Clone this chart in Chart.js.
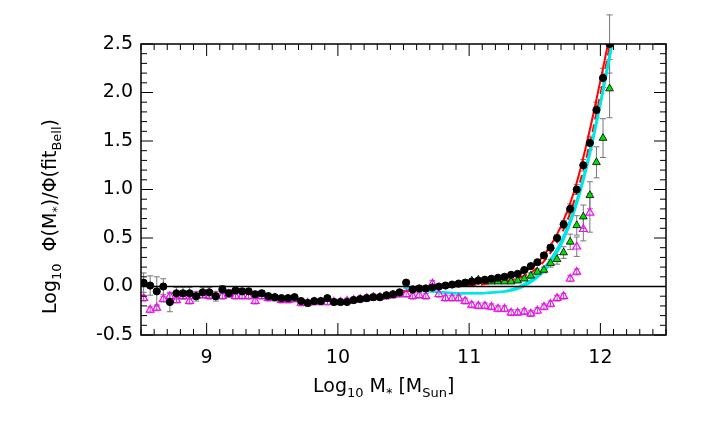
<!DOCTYPE html>
<html><head><meta charset="utf-8">
<script src="https://cdn.jsdelivr.net/npm/chart.js@4"></script>
<style>body{margin:0;background:#fff}#wrap{width:706px;height:424px}</style>
</head><body><div id="wrap"><canvas id="c"></canvas></div>
<script>
// black circles
const blackX = [8.52,8.57,8.62,8.67,8.72,8.77,8.82,8.87,8.92,8.97,9.02,9.07,9.12,9.17,9.22,9.27,9.32,9.37,9.42,9.47,9.52,9.57,9.62,9.67,9.72,9.77,9.82,9.87,9.92,9.97,10.02,10.07,10.12,10.17,10.22,10.27,10.32,10.37,10.42,10.47,10.52,10.57,10.62,10.67,10.72,10.77,10.82,10.87,10.92,10.97,11.02,11.07,11.12,11.17,11.22,11.27,11.32,11.37,11.42,11.47,11.52,11.57,11.62,11.67,11.72,11.77,11.82,11.87,11.92,11.97,12.02,12.07];
const blackY = [0.04,0.01,-0.05,0.0,-0.16,-0.07,-0.07,-0.07,-0.1,-0.06,-0.06,-0.1,-0.03,-0.07,-0.04,-0.05,-0.05,-0.08,-0.07,-0.1,-0.11,-0.12,-0.12,-0.11,-0.15,-0.17,-0.15,-0.15,-0.12,-0.16,-0.16,-0.16,-0.14,-0.13,-0.12,-0.11,-0.11,-0.09,-0.08,-0.06,0.04,-0.03,-0.02,-0.02,-0.01,0.0,0.01,0.02,0.03,0.04,0.05,0.06,0.07,0.08,0.09,0.1,0.12,0.13,0.17,0.21,0.25,0.32,0.4,0.5,0.64,0.8,1.0,1.25,1.48,1.82,2.15,2.5];
const blackErr = [0.1,0.1,0.15,0.08,0.1,0.06,0.06,0.06,0.05,0.05,0.05,0.05,0.04,0.04,0.04,0.03,0.03,0.03,0.03,0.03,0.02,0.02,0.02,0.02,0.02,0.02,0.02,0.02,0.02,0.02,0.02,0.02,0.02,0.02,0.02,0.02,0.02,0.02,0.02,0.02,0.02,0.02,0.02,0.02,0.02,0.02,0.02,0.02,0.02,0.02,0.02,0.02,0.02,0.02,0.02,0.02,0.02,0.02,0.02,0.02,0.02,0.03,0.03,0.03,0.04,0.05,0.05,0.06,0.07,0.08,0.1,0.3];
// green triangles
const greenX = [11.02,11.07,11.12,11.17,11.22,11.27,11.32,11.37,11.42,11.47,11.52,11.57,11.62,11.67,11.72,11.77,11.82,11.87,11.92,11.97,12.02,12.07];
const greenY = [0.06,0.07,0.06,0.05,0.05,0.05,0.05,0.06,0.08,0.11,0.15,0.17,0.24,0.28,0.35,0.46,0.63,0.72,0.94,1.28,1.53,2.04];
const greenErr = [0.02,0.02,0.02,0.02,0.02,0.02,0.02,0.02,0.02,0.03,0.03,0.03,0.04,0.05,0.06,0.08,0.1,0.12,0.14,0.16,0.2,0.3];
// magenta triangles
const magX = blackX.slice(0,67);
const magY = [-0.12,-0.24,-0.22,-0.13,-0.1,-0.14,-0.1,-0.15,-0.1,-0.09,-0.1,-0.1,-0.1,-0.08,-0.1,-0.1,-0.1,-0.15,-0.1,-0.12,-0.12,-0.14,-0.14,-0.13,-0.17,-0.17,-0.16,-0.16,-0.16,-0.16,-0.16,-0.15,-0.14,-0.13,-0.12,-0.11,-0.11,-0.1,-0.09,-0.08,-0.08,-0.1,-0.09,-0.1,0.03,-0.08,-0.12,-0.12,-0.12,-0.15,-0.19,-0.2,-0.2,-0.21,-0.23,-0.23,-0.27,-0.27,-0.26,-0.28,-0.25,-0.21,-0.18,-0.12,-0.1,0.08,0.15];
const magXHigh = [11.82,11.87,11.92];
const magYHigh = [0.41,0.59,0.76];
// fit curves
const curveX = [10.5,10.7,10.9,11.0,11.1,11.2,11.3,11.4,11.5,11.6,11.7,11.8,11.9,12.0,12.05,12.1];
const redSolid = [-0.05,-0.01,0.01,0.02,0.04,0.06,0.09,0.14,0.22,0.38,0.62,0.98,1.5,2.12,2.45,2.8];
const redDash  = [-0.05,-0.02,0.0,0.01,0.02,0.04,0.06,0.1,0.17,0.31,0.53,0.88,1.36,1.98,2.33,2.7];
const cyanA    = [-0.01,-0.05,-0.07,-0.07,-0.07,-0.06,-0.04,0.01,0.09,0.24,0.46,0.8,1.28,1.9,2.25,2.6];
const cyanB    = [-0.01,-0.05,-0.07,-0.07,-0.07,-0.06,-0.05,-0.01,0.07,0.2,0.42,0.76,1.24,1.86,2.2,2.55];
const xTicks = [9,10,11,12];

const pts = (xs, ys) => xs.map((x,i)=>({x, y: ys[i]}));

const errPlugin = {
  id:'err',
  beforeDatasetsDraw(ch){
    const {ctx, scales:{x,y}} = ch;
    ctx.save(); ctx.strokeStyle='#777'; ctx.lineWidth=1;
    const draw = (xs, ys, es) => xs.forEach((v,i)=>{
      const px=x.getPixelForValue(v), t=y.getPixelForValue(ys[i]+es[i]), b=y.getPixelForValue(ys[i]-es[i]);
      ctx.beginPath(); ctx.moveTo(px,t); ctx.lineTo(px,b);
      ctx.moveTo(px-3,t); ctx.lineTo(px+3,t); ctx.moveTo(px-3,b); ctx.lineTo(px+3,b); ctx.stroke();
    });
    draw(blackX, blackY, blackErr);
    draw(greenX, greenY, greenErr);
    draw(magX, magY, magX.map(()=>0.03));
    draw(magXHigh, magYHigh, [0.1,0.12,0.2]);
    ctx.restore();
  },
  afterDraw(ch){
    const {ctx, chartArea:a, scales:{x,y}} = ch;
    ctx.save(); ctx.strokeStyle='#000'; ctx.lineWidth=1.5;
    ctx.strokeRect(a.left,a.top,a.right-a.left,a.bottom-a.top);
    ctx.lineWidth=1;
    for(let v=8.5; v<=12.5001; v+=0.1){
      const px=x.getPixelForValue(v), major=Math.abs(v-Math.round(v))<1e-6, L=major?12:6;
      ctx.beginPath(); ctx.moveTo(px,a.bottom); ctx.lineTo(px,a.bottom-L); ctx.moveTo(px,a.top); ctx.lineTo(px,a.top+L); ctx.stroke();
    }
    for(let v=-0.5; v<=2.5001; v+=0.1){
      const py=y.getPixelForValue(v), major=Math.abs(v*2-Math.round(v*2))<1e-6, L=major?12:6;
      ctx.beginPath(); ctx.moveTo(a.left,py); ctx.lineTo(a.left+L,py); ctx.moveTo(a.right,py); ctx.lineTo(a.right-L,py); ctx.stroke();
    }
    ctx.fillStyle='#000'; ctx.textBaseline='alphabetic';
    // x title
    let cx=313, cy=392;
    const seg=(t,f,dy)=>{ctx.font=f+'px "DejaVu Sans"'; ctx.fillText(t,cx,cy+dy); cx+=ctx.measureText(t).width;};
    seg('Log',19,0); seg('10',13,5); seg(' M',19,0); seg('*',13,5); seg(' [M',19,0); seg('Sun',13,5); seg(']',19,0);
    // y title
    ctx.translate(56,314); ctx.rotate(-Math.PI/2); cx=0; cy=0;
    seg('Log',19,0); seg('10',13,5); seg('  Φ(M',19,0); seg('*',13,5); seg(')/Φ(fit',19,0); seg('Bell',13,5); seg(')',19,0);
    ctx.restore();
  }
};

const sc = (data, color, style) => Object.assign({type:'scatter', data, backgroundColor:color, borderColor:color}, style);
new Chart(document.getElementById('c'), {
  type:'scatter',
  data:{datasets:[
    sc(pts(blackX,blackY),'#000',{pointRadius:3.6}),
    sc(pts(greenX,greenY),'#00e000',{pointStyle:'triangle',pointRadius:4.5,borderColor:'#000',borderWidth:0.8}),
    sc(pts(magX,magY),'rgba(0,0,0,0)',{pointStyle:'triangle',pointRadius:4.5,borderColor:'#ff00ff',borderWidth:1.2}),
    sc(pts(magXHigh,magYHigh),'rgba(0,0,0,0)',{pointStyle:'triangle',pointRadius:4.5,borderColor:'#ff00ff',borderWidth:1.2}),
    {type:'line',data:pts([8.5,12.5],[0,0]),borderColor:'#000',borderWidth:1.5,pointRadius:0},
    {type:'line',data:pts(curveX,cyanA),borderColor:'#00e5e5',borderWidth:2.5,pointRadius:0,tension:0.4},
    {type:'line',data:pts(curveX,cyanB),borderColor:'#00e5e5',borderWidth:2,pointRadius:0,tension:0.4},
    {type:'line',data:pts(curveX,redDash),borderColor:'#ff0000',borderWidth:2,borderDash:[8,5],pointRadius:0,tension:0.4},
    {type:'line',data:pts(curveX,redSolid),borderColor:'#ff0000',borderWidth:2,pointRadius:0,tension:0.4}
  ]},
  options:{
    responsive:true, maintainAspectRatio:false, animation:false,
    layout:{padding:{left:0,right:40,top:44,bottom:0}},
    plugins:{legend:{display:false},tooltip:{enabled:false}},
    scales:{
      x:{type:'linear',min:8.5,max:12.5,afterBuildTicks:s=>{s.ticks=xTicks.map(v=>({value:v}));},
        grid:{display:false,drawTicks:false},border:{display:false},
        ticks:{color:'#000',padding:12,font:{size:19,family:'DejaVu Sans'}},
        afterFit:s=>{s.height=89;}},
      y:{min:-0.5,max:2.5,grid:{display:false,drawTicks:false},border:{display:false},
        ticks:{stepSize:0.5,color:'#000',padding:8,font:{size:19,family:'DejaVu Sans'},callback:v=>v.toFixed(1)},
        afterFit:s=>{s.width=141;}}
    }
  },
  plugins:[errPlugin]
});
</script></body></html>
